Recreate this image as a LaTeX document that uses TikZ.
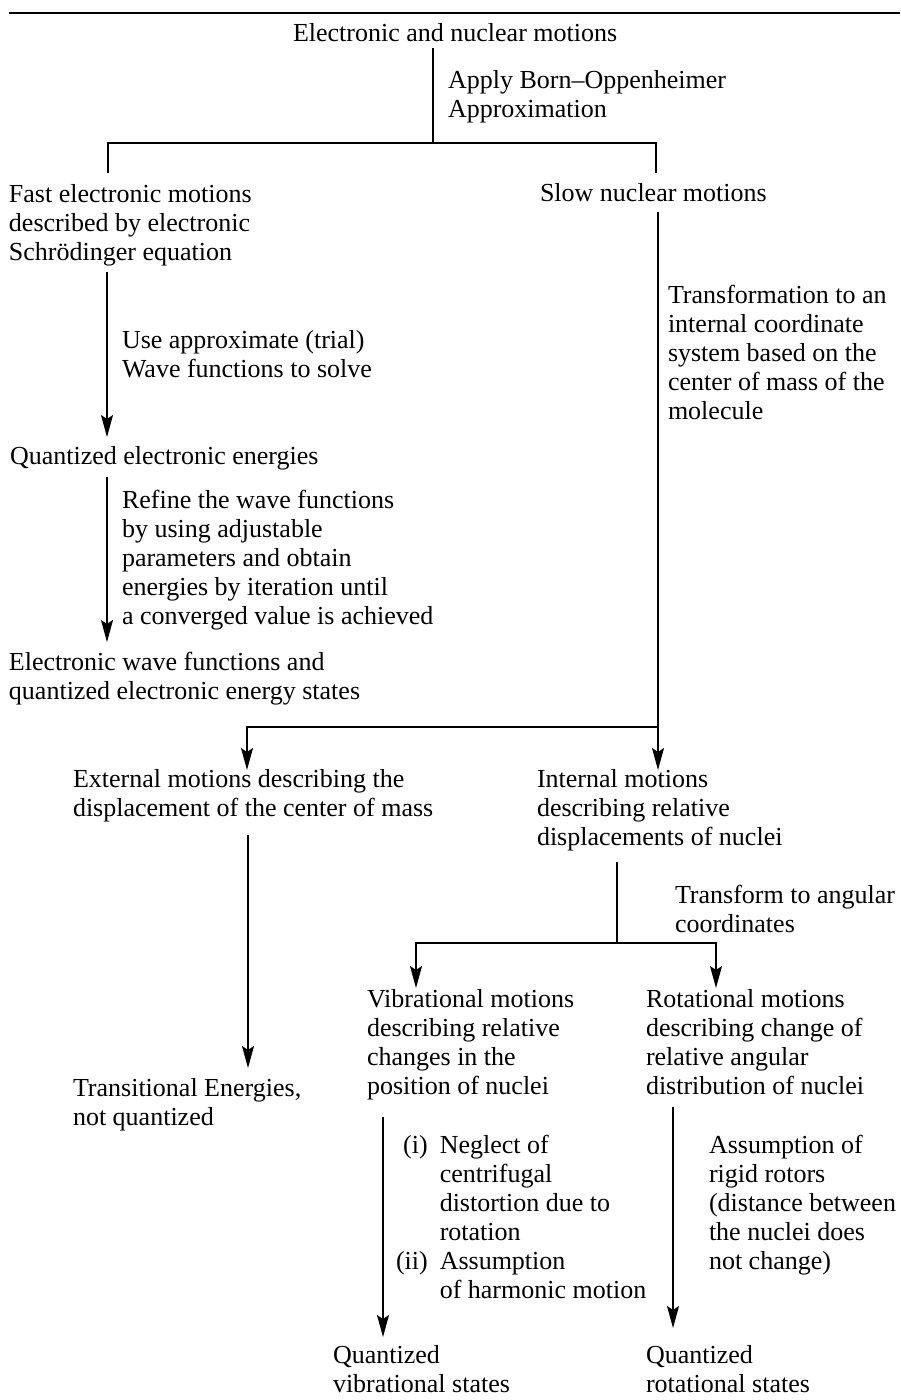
\documentclass[tikz,border=0pt]{standalone}
\usepackage{fontspec}
\setmainfont{Liberation Serif}
\usetikzlibrary{arrows.meta}
\begin{document}
\begin{tikzpicture}[x=1pt,y=-1pt,
  lbl/.style={anchor=north west, inner sep=0pt, outer sep=0pt, align=left,
              yshift=20.3pt, font=\fontsize{26pt}{29pt}\selectfont},
  ln/.style={line width=1.5pt},
  arr/.style={ln, -{Stealth[length=22pt,width=12pt,inset=4pt]}}]
\useasboundingbox (0,0) rectangle (900,1400);

% rule under the heading
\draw[line width=2pt] (9,13) -- (900,13);

% text blocks (position = left end of first baseline)
\node[lbl] (top)  at (293,41)  {\strut Electronic and nuclear motions};
\node[lbl] (bo)   at (448,88)  {\strut Apply Born–Oppenheimer\\Approximation};
\node[lbl] (fast) at (9,202)   {\strut Fast electronic motions\\described by electronic\\Schrödinger equation};
\node[lbl] (slow) at (540,201) {\strut Slow nuclear motions};
\node[lbl] (use)  at (122,348) {\strut Use approximate (trial)\\Wave functions to solve};
\node[lbl] (qee)  at (10,464)  {\strut Quantized electronic energies};
\node[lbl] (refine) at (122,508) {\strut Refine the wave functions\\by using adjustable\\parameters and obtain\\energies by iteration until\\a converged value is achieved};
\node[lbl] (ewf)  at (9,670)   {\strut Electronic wave functions and\\quantized electronic energy states};
\node[lbl] (trans) at (668,303) {\strut Transformation to an\\internal coordinate\\system based on the\\center of mass of the\\molecule};
\node[lbl] (ext)  at (73,787)  {\strut External motions describing the\\displacement of the center of mass};
\node[lbl] (int)  at (537,787) {\strut Internal motions\\describing relative\\displacements of nuclei};
\node[lbl] (ang)  at (675,903) {\strut Transform to angular\\coordinates};
\node[lbl] (vib)  at (367,1007) {\strut Vibrational motions\\describing relative\\changes in the\\position of nuclei};
\node[lbl] (rot)  at (646,1007) {\strut Rotational motions\\describing change of\\relative angular\\distribution of nuclei};
\node[lbl] (tre)  at (73,1096) {\strut Transitional Energies,\\not quantized};
\node[lbl] (cond) at (396,1153) {\begin{tabular}[t]{@{}r@{\hspace{12pt}}l@{}}(i)&Neglect of\\&centrifugal\\&distortion due to\\&rotation\\(ii)&Assumption\\&of harmonic motion\end{tabular}};
\node[lbl] (rigid) at (709,1153) {\strut Assumption of\\rigid rotors\\(distance between\\the nuclei does\\not change)};
\node[lbl] (qv)   at (333,1363) {\strut Quantized\\vibrational states};
\node[lbl] (qr)   at (646,1363) {\strut Quantized\\rotational states};

% connector points
\coordinate (topout) at (433,48);
\coordinate (sp1)    at (433,143);
\coordinate (sp1l)   at (108,143);
\coordinate (sp1r)   at (656,143);
\coordinate (fastin) at (108,173);
\coordinate (slowin) at (656,173);
\coordinate (fastout) at (107,272);
\coordinate (qeein)  at (107,437);
\coordinate (qeeout) at (107,477);
\coordinate (ewfin)  at (107,642);
\coordinate (slowout) at (658,212);
\coordinate (sp2)    at (658,727);
\coordinate (sp2l)   at (247,727);
\coordinate (extin)  at (247,770);
\coordinate (intin)  at (658,770);
\coordinate (extout) at (248,835);
\coordinate (trein)  at (248,1068);
\coordinate (intout) at (617,862);
\coordinate (sp3)    at (617,943);
\coordinate (sp3l)   at (416,943);
\coordinate (sp3r)   at (716,943);
\coordinate (vibin)  at (416,988);
\coordinate (rotin)  at (716,988);
\coordinate (vibout) at (383,1117);
\coordinate (qvin)   at (383,1337);
\coordinate (rotout) at (673,1107);
\coordinate (qrin)   at (673,1328);

% Born–Oppenheimer split
\draw[ln] (topout) -- (sp1);
\draw[ln] (fastin) -- (sp1l) -- (sp1r) -- (slowin);

% electronic branch
\draw[arr] (fastout) -- (qeein);
\draw[arr] (qeeout) -- (ewfin);

% nuclear branch
\draw[ln] (slowout) -- (sp2);
\draw[arr] (sp2) -- (sp2l) -- (extin);
\draw[arr] (sp2) -- (intin);
\draw[arr] (extout) -- (trein);

% internal motions split
\draw[ln] (intout) -- (sp3);
\draw[arr] (sp3) -- (sp3l) -- (vibin);
\draw[arr] (sp3) -- (sp3r) -- (rotin);
\draw[arr] (vibout) -- (qvin);
\draw[arr] (rotout) -- (qrin);
\end{tikzpicture}
\end{document}
